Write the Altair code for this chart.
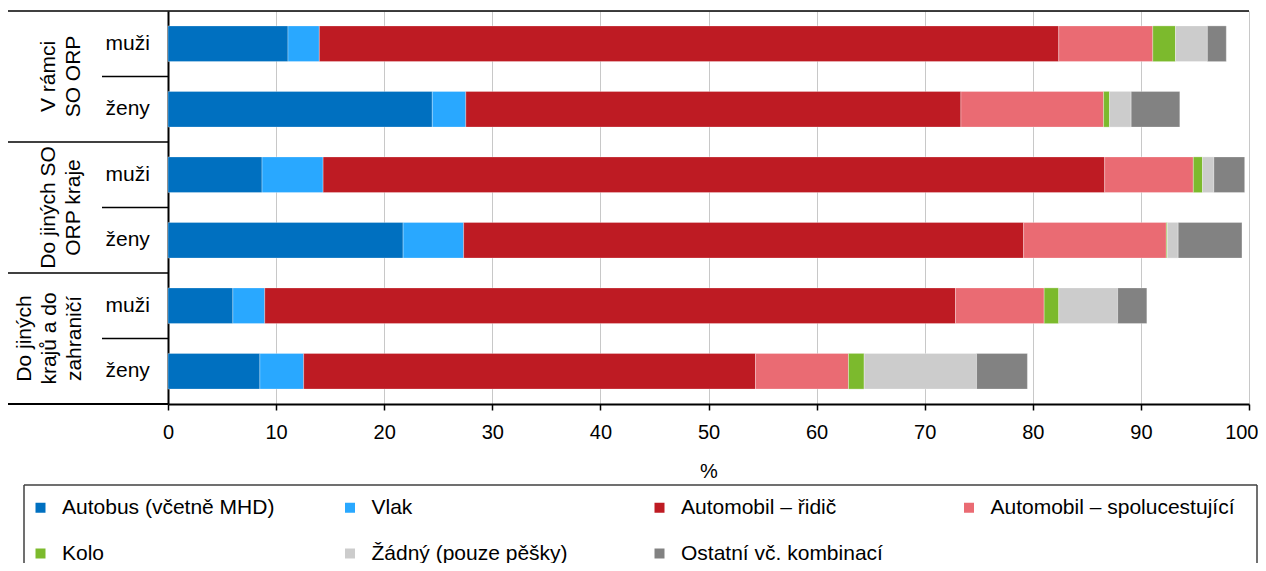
import altair as alt
import pandas as pd

# ---- data -------------------------------------------------------------
categories = ["Autobus (včetně MHD)", "Vlak", "Automobil – řidič",
              "Automobil – spolucestující", "Kolo", "Žádný (pouze pěšky)",
              "Ostatní vč. kombinací"]
colors = ["#0070C0", "#29A8FF", "#BE1B23", "#EA6B73", "#7CBA2D", "#CCCCCC", "#828282"]

groups = ["V rámci SO ORP", "Do jiných SO ORP kraje", "Do jiných krajů a do zahraničí"]
group_lines = ["V rámci\nSO ORP", "Do jiných SO\nORP kraje", "Do jiných\nkrajů a do\nzahraničí"]
sexes = ["muži", "ženy"]

v_ramci_muzi = [11.1, 2.9, 68.4, 8.7, 2.1, 2.95, 1.75]
v_ramci_zeny = [24.45, 3.1, 45.8, 13.2, 0.55, 2.0, 4.5]
kraj_muzi = [8.7, 5.65, 72.3, 8.2, 0.85, 1.05, 2.85]
kraj_zeny = [21.75, 5.6, 51.8, 13.2, 0.1, 1.0, 5.9]
jine_muzi = [6.0, 2.95, 63.9, 8.2, 1.35, 5.45, 2.7]
jine_zeny = [8.5, 4.05, 41.8, 8.6, 1.45, 10.4, 4.7]

series = [v_ramci_muzi, v_ramci_zeny, kraj_muzi, kraj_zeny, jine_muzi, jine_zeny]

rows = [f"{g}|{s}" for g in groups for s in sexes]

recs = []
for r, vals in zip(rows, series):
    for i, (c, v) in enumerate(zip(categories, vals)):
        recs.append({"row": r, "cat": c, "idx": i, "value": v})
df = pd.DataFrame(recs)

FONT = "Liberation Sans"

y_scale = alt.Scale(domain=rows, paddingInner=0, paddingOuter=0)

bars = alt.Chart(df).mark_bar(
    height={"band": 0.545}, stroke="#ffffff", strokeWidth=0.6, strokeOpacity=0.5
).encode(
    x=alt.X("value:Q", stack="zero",
            scale=alt.Scale(domain=[0, 100], nice=False),
            axis=alt.Axis(values=list(range(0, 101, 10)), title="%",
                          grid=True, gridColor="#C8C8C8", gridWidth=1,
                          domainColor="#000000", domainWidth=2,
                          tickColor="#000000", tickWidth=1.5, tickSize=6,
                          labelFont=FONT, labelFontSize=20, labelColor="#000000",
                          labelPadding=12, labelFlush=False,
                          labelAlign={"condition": {"test": "datum.value == 100", "value": "right"},
                                      "value": "center"},
                          labelOffset={"condition": {"test": "datum.value == 100", "value": 9},
                                       "value": 0},
                          titleFont=FONT, titleFontSize=20, titleFontWeight="normal",
                          titleColor="#000000", titlePadding=19)),
    y=alt.Y("row:N", sort=rows, scale=y_scale, title=None,
            axis=alt.Axis(labelExpr="split(datum.label, '|')[1]",
                          ticks=False, tickSize=0, labelAlign="left",
                          labelPadding=63, labelFont=FONT, labelFontSize=21,
                          labelColor="#000000", domainColor="#000000",
                          domainWidth=2, grid=False)),
    color=alt.Color("cat:N", scale=alt.Scale(domain=categories, range=colors),
                    legend=alt.Legend(title=None, orient="none",
                                      legendX=-138, legendY=486, columns=4,
                                      direction="horizontal", gridAlign="all",
                                      columnPadding=33.5, rowPadding=24,
                                      symbolType="square", symbolSize=100,
                                      symbolStrokeWidth=0, labelOffset=11,
                                      labelFont=FONT, labelFontSize=21,
                                      labelColor="#000000", labelLimit=400,
                                      padding=0)),
    order=alt.Order("idx:Q"),
)

# separators of the category table on the left
first_rows = [rows[0], rows[2], rows[4]]
second_rows = [rows[1], rows[3], rows[5]]

full_top = alt.Chart(pd.DataFrame({"row": first_rows[1:]})).mark_rule(
    color="#000000", strokeWidth=1.5
).encode(y=alt.Y("row:N", sort=rows, bandPosition=0), x=alt.value(-160), x2=alt.value(0))

top_line = alt.Chart(pd.DataFrame({"row": [rows[0]]})).mark_rule(
    color="#000000", strokeWidth=1.5
).encode(y=alt.Y("row:N", sort=rows, bandPosition=0), x=alt.value(-160), x2=alt.value(1081))

bottom_line = alt.Chart(pd.DataFrame({"row": [rows[-1]]})).mark_rule(
    color="#000000", strokeWidth=2
).encode(y=alt.Y("row:N", sort=rows, bandPosition=1), x=alt.value(-160), x2=alt.value(0))

short_lines = alt.Chart(pd.DataFrame({"row": second_rows})).mark_rule(
    color="#000000", strokeWidth=1.5
).encode(y=alt.Y("row:N", sort=rows, bandPosition=0), x=alt.value(-66), x2=alt.value(0))

text_style = dict(angle=270, align="center", baseline="top", lineBreak="\n",
                  lineHeight=25, font=FONT, fontSize=21, color="#000000")

group_text2 = alt.Chart(pd.DataFrame({"row": second_rows[:2], "label": group_lines[:2]})).mark_text(
    **text_style
).encode(y=alt.Y("row:N", sort=rows, bandPosition=0), x=alt.value(-130.5), text="label:N")

group_text3 = alt.Chart(pd.DataFrame({"row": second_rows[2:], "label": group_lines[2:]})).mark_text(
    **text_style
).encode(y=alt.Y("row:N", sort=rows, bandPosition=0), x=alt.value(-154.5), text="label:N")

# legend frame (top, left, right edges; bottom runs out of the picture)
frame_top = alt.Chart(pd.DataFrame({"row": [rows[0]]})).mark_rule(
    color="#404040", strokeWidth=1.5
).encode(x=alt.value(-144), x2=alt.value(1089), y=alt.value(474))
frame_left = alt.Chart(pd.DataFrame({"row": [rows[0]]})).mark_rule(
    color="#404040", strokeWidth=1.5
).encode(x=alt.value(-144), y=alt.value(474), y2=alt.value(600))
frame_right = alt.Chart(pd.DataFrame({"row": [rows[0]]})).mark_rule(
    color="#404040", strokeWidth=1.5
).encode(x=alt.value(1089), y=alt.value(474), y2=alt.value(600))

chart = alt.layer(
    bars, full_top, top_line, bottom_line, short_lines, group_text2, group_text3,
    frame_top, frame_left, frame_right
).properties(
    width=1081, height=393,
    autosize=alt.AutoSizeParams(type="none"),
    padding={"left": 160, "top": 3, "right": 9, "bottom": 159},
).configure_view(
    stroke="#000000", strokeWidth=1.5
).configure(background="#ffffff")

chart.save("out.html", embed_options={"renderer": "svg", "actions": False})
